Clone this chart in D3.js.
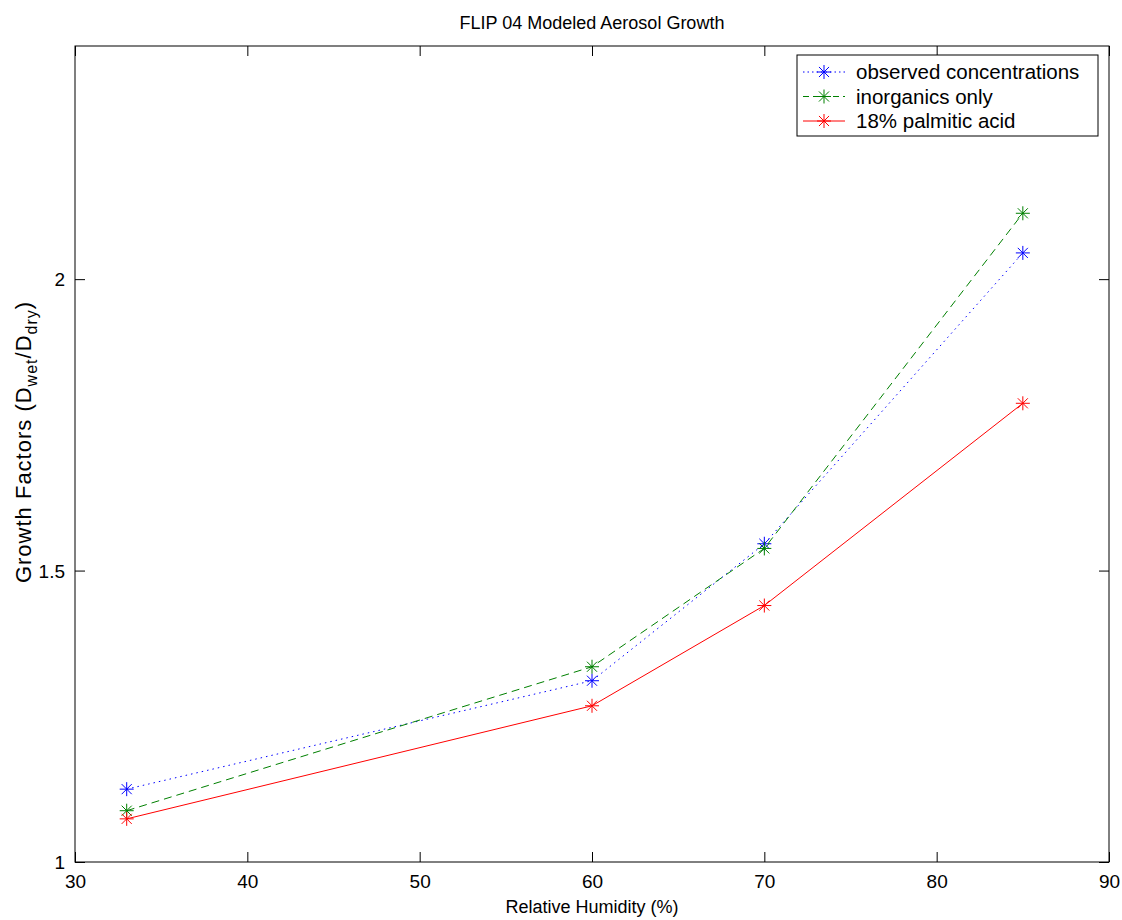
<!DOCTYPE html>
<html>
<head>
<meta charset="utf-8">
<script src="https://cdn.jsdelivr.net/npm/d3@7"></script>
<style>
  body { margin: 0; background: #fff; }
  svg { display: block; }
  text { font-family: "Liberation Sans", Arial, Helvetica, sans-serif; fill: #000; }
</style>
</head>
<body>
<svg id="chart" width="1122" height="920"></svg>
<script>
// ---- data ----
const humidity = [33, 60, 70, 85];
const observed = [1.125, 1.311, 1.546, 2.045];
const inorganics = [1.088, 1.335, 1.538, 2.113];
const palmitic = [1.074, 1.268, 1.440, 1.787];
const seriesNames = ["observed concentrations", "inorganics only", "18% palmitic acid"];
const seriesColors = ["#0000ff", "#008000", "#ff0000"];
const seriesDash = ["1.5,4", "8,5", null];
const xTicks = [30, 40, 50, 60, 70, 80, 90];
const yTicks = [1, 1.5, 2];
const titleText = "FLIP 04 Modeled Aerosol Growth";
const xLabelText = "Relative Humidity (%)";

const series = [observed, inorganics, palmitic];

const svg = d3.select("#chart");
const L = 75, R = 1109, T = 46, B = 862;
const x = d3.scaleLinear().domain([30, 90]).range([L, R]);
const y = d3.scaleLinear().domain([1, 2.4]).range([B, T]);

// frame
svg.append("rect").attr("x", L).attr("y", T).attr("width", R - L).attr("height", B - T)
  .attr("fill", "none").attr("stroke", "#000").attr("stroke-width", 1);

const tickLen = 10;
const tickFont = 19;
const xAxisB = d3.axisBottom(x).tickValues(xTicks).tickSizeInner(-tickLen).tickSizeOuter(0).tickPadding(13).tickFormat(d3.format("d"));
const gB = svg.append("g").attr("transform", `translate(0,${B})`).call(xAxisB);
const xAxisT = d3.axisTop(x).tickValues(xTicks).tickSizeInner(-tickLen).tickSizeOuter(0).tickFormat("");
const gT = svg.append("g").attr("transform", `translate(0,${T})`).call(xAxisT);
const yAxisL = d3.axisLeft(y).tickValues(yTicks).tickSizeInner(-tickLen).tickSizeOuter(0).tickPadding(10).tickFormat(d => d3.format("")(d));
const gL = svg.append("g").attr("transform", `translate(${L},0)`).call(yAxisL);
const yAxisR = d3.axisRight(y).tickValues(yTicks).tickSizeInner(-tickLen).tickSizeOuter(0).tickFormat("");
const gR = svg.append("g").attr("transform", `translate(${R},0)`).call(yAxisR);

[gB, gT, gL, gR].forEach(g => {
  g.select(".domain").remove();
  g.selectAll("line").attr("stroke", "#000");
  g.selectAll("text").attr("font-size", tickFont).attr("fill", "#000")
    .style("font-family", "'Liberation Sans', Arial, sans-serif");
});
gB.selectAll("text").attr("dy", "0.71em");
gL.selectAll("text").attr("dy", "0.35em");

// title
svg.append("text").attr("x", (L + R) / 2).attr("y", 29).attr("text-anchor", "middle")
  .attr("font-size", 18).text(titleText);
// x label
svg.append("text").attr("x", (L + R) / 2).attr("y", 913).attr("text-anchor", "middle")
  .attr("font-size", 18).text(xLabelText);
// y label
const yl = svg.append("text").attr("transform", `translate(31,442) rotate(-90)`)
  .attr("text-anchor", "middle").attr("font-size", 22).attr("letter-spacing", 1);
yl.append("tspan").text("Growth Factors (D");
yl.append("tspan").attr("font-size", 16).attr("dy", 6).text("wet");
yl.append("tspan").attr("dy", -6).text("/D");
yl.append("tspan").attr("font-size", 16).attr("dy", 6).text("dry");
yl.append("tspan").attr("dy", -6).text(")");

// asterisk marker
function star(g, cx, cy, color, r) {
  const pts = [[r, 0], [0, r], [r * 0.72, r * 0.72], [r * 0.72, -r * 0.72]];
  pts.forEach(([dx, dy]) => {
    g.append("line").attr("x1", cx - dx).attr("y1", cy - dy).attr("x2", cx + dx).attr("y2", cy + dy)
      .attr("stroke", color).attr("stroke-width", 1);
  });
}

const line = d3.line().x((d, i) => x(humidity[i])).y(d => y(d));
series.forEach((vals, si) => {
  const p = svg.append("path").datum(vals).attr("d", line)
    .attr("fill", "none").attr("stroke", seriesColors[si]).attr("stroke-width", 1);
  if (seriesDash[si]) p.attr("stroke-dasharray", seriesDash[si]);
  const g = svg.append("g");
  vals.forEach((v, i) => star(g, x(humidity[i]), y(v), seriesColors[si], 7));
});

// legend
const lgX = 797, lgY = 55, lgW = 301, rowH = 24.5;
svg.append("rect").attr("x", lgX).attr("y", lgY).attr("width", lgW).attr("height", 81)
  .attr("fill", "#fff").attr("stroke", "#000").attr("stroke-width", 1);
seriesNames.forEach((name, si) => {
  const cy = lgY + 17 + si * rowH;
  const l = svg.append("line").attr("x1", lgX + 6).attr("x2", lgX + 48).attr("y1", cy).attr("y2", cy)
    .attr("stroke", seriesColors[si]).attr("stroke-width", 1);
  if (seriesDash[si]) l.attr("stroke-dasharray", si === 0 ? "1.5,3" : "6,4");
  star(svg, lgX + 27, cy, seriesColors[si], 7);
  svg.append("text").attr("x", lgX + 59).attr("y", cy).attr("dy", "0.35em")
    .attr("font-size", 20.5).text(name);
});
</script>
</body>
</html>
